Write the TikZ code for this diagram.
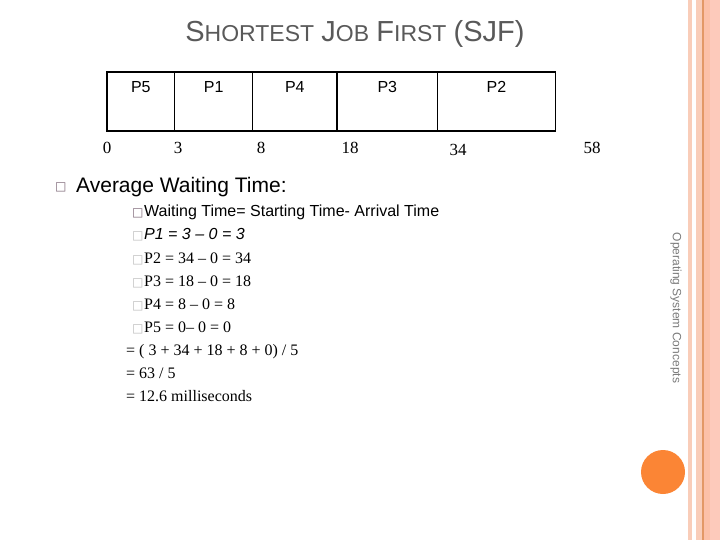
\documentclass[tikz,border=0pt]{standalone}
\usepackage{xcolor}
\usepackage{fontspec}
\usepackage{tikz}
\usetikzlibrary{positioning}

\setmainfont{Liberation Sans}
\newfontfamily\serifrm{Liberation Serif}
\newfontfamily\symbf{DejaVu Sans}

\definecolor{titlegray}{HTML}{595959}
\definecolor{boxpurple}{HTML}{7E6878}
\definecolor{boxgray}{HTML}{BDBDBD}
\definecolor{sidegray}{HTML}{7A7A7A}
\definecolor{stripe}{HTML}{F9CDB9}
\definecolor{stripemid}{HTML}{FCC0A8}
\definecolor{stripeend}{HTML}{FDCABB}
\definecolor{stripeline}{HTML}{E39866}
\definecolor{dotorange}{HTML}{FB8535}

\newcommand{\titlecap}[1]{{\fontsize{29}{31}\selectfont #1}}
\newcommand{\titlesc}[1]{{\fontsize{23}{25}\selectfont #1}}
\newcommand{\sqbul}[1]{\makebox[12pt][l]{\symbf\fontsize{12}{14}\selectfont\textcolor{#1}{□}}}

\begin{document}
\begin{tikzpicture}[x=1pt, y=-1pt,
    cell/.style={draw, line width=1.5pt, inner sep=0pt, outer sep=0pt,
      text height=21pt, text depth=38pt, font=\fontsize{16}{18}\selectfont},
    tick/.style={font=\serifrm\fontsize{17}{19}\selectfont},
    txt/.style={anchor=base west, inner sep=0pt, font=\fontsize{16}{18}\selectfont},
    eqn/.style={txt, font=\serifrm\fontsize{16}{18}\selectfont}]
    \useasboundingbox (0,0) rectangle (720,540);

    % side stripes
    \fill[stripe] (688,0) rectangle (692,540);
    \fill[stripe] (696,0) rectangle (702,540);
    \fill[stripeline] (702,0) rectangle (703.5,540);
    \fill[stripemid] (703.5,0) rectangle (710,540);
    \fill[stripeend] (710,0) rectangle (720,540);
    \fill[dotorange] (663,472) circle (22);
    \node[rotate=-90, text=sidegray, font=\fontsize{12}{14}\selectfont] (osc) at (676,308) {Operating System Concepts};

    % title
    \node[anchor=base, text=titlegray, inner sep=0pt, font=\fontsize{26}{30}\selectfont] (title) at (355,42)
      {\titlecap{S}\titlesc{HORTEST} \titlecap{J}\titlesc{OB} \titlecap{F}\titlesc{IRST} \titlecap{(SJF)}};

    % gantt chart
    \node[cell, minimum width=67.7pt, anchor=north west] (p5) at (107,72) {P5};
    \node[cell, minimum width=78pt, anchor=north west] (p1) at (p5.north east) {P1};
    \node[cell, minimum width=84.3pt, anchor=north west] (p4) at (p1.north east) {P4};
    \node[cell, minimum width=100.7pt, anchor=north west] (p3) at (p4.north east) {P3};
    \node[cell, minimum width=117.6pt, anchor=north west] (p2) at (p3.north east) {P2};

    \node[tick] (t0) at (107,148) {0};
    \node[tick] (t3) at (178,148) {3};
    \node[tick] (t8) at (261,148) {8};
    \node[tick] (t18) at (350,148) {18};
    \node[tick] (t34) at (458,150) {34};
    \node[tick] (t58) at (592,148) {58};

    % waiting time
    \node[txt, font=\fontsize{14}{16}\selectfont] (b0) at (55,191) {\sqbul{boxpurple}};
    \node[txt, font=\fontsize{21}{24}\selectfont] (avg) at (76,193) {Average Waiting Time:};
    \node[txt] (w0) at (132,217) {\sqbul{boxpurple}Waiting Time= Starting Time- Arrival Time};
    \node[txt] (w1) at (132,240) {\sqbul{boxgray}\textit{P1 = 3 – 0 = 3}};
    \node[eqn] (w2) at (132,263) {\sqbul{boxgray}P2 = 34 – 0 = 34};
    \node[eqn] (w3) at (132,286) {\sqbul{boxgray}P3 = 18 – 0 = 18};
    \node[eqn] (w4) at (132,309) {\sqbul{boxgray}P4 = 8 – 0 = 8};
    \node[eqn] (w5) at (132,332) {\sqbul{boxgray}P5 = 0– 0 = 0};
    \node[eqn] (s1) at (126,355) {= ( 3 + 34 + 18 + 8 + 0) / 5};
    \node[eqn] (s2) at (126,378) {= 63 / 5};
    \node[eqn] (s3) at (126,401) {= 12.6 milliseconds};
\end{tikzpicture}
\end{document}
